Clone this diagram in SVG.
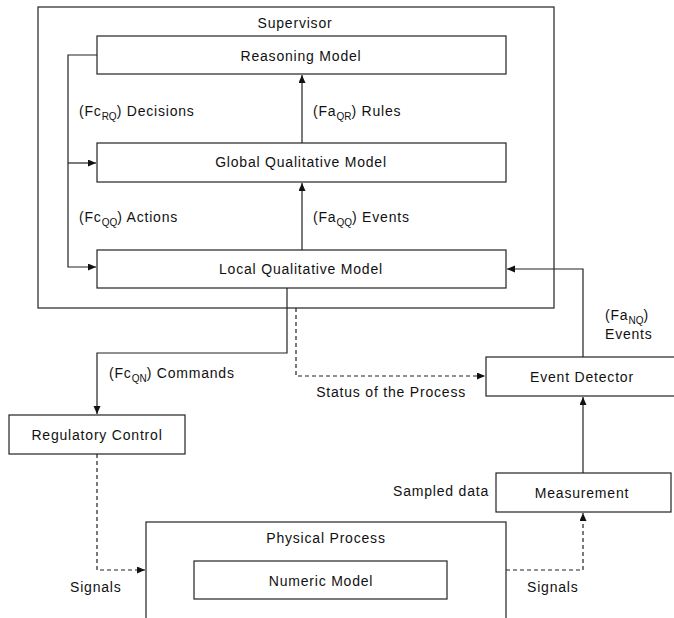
<svg xmlns="http://www.w3.org/2000/svg" width="674" height="618" viewBox="0 0 674 618">
<defs>
<marker id="ah" markerUnits="userSpaceOnUse" markerWidth="9" markerHeight="8" refX="8" refY="3.5" orient="auto">
<path d="M0,0 L8,3.5 L0,7 z" fill="#111"/>
</marker>
<style>
rect{fill:#fff;stroke:#222;stroke-width:1.2}
text{font-family:"Liberation Sans",Arial,sans-serif;font-size:14px;letter-spacing:0.8px;fill:#111}
.c{text-anchor:middle}
.e{text-anchor:end}
.sub{font-size:10px;letter-spacing:0}
.ln{fill:none;stroke:#222;stroke-width:1.2}
.d{stroke-dasharray:4 3}
</style>
</defs>
<rect width="674" height="618" style="fill:#fff;stroke:none"/>
<g id="supervisor">
<rect x="38" y="7" width="516" height="301"/>
<text class="c" x="295" y="28">Supervisor</text>
</g>
<g id="reasoning-model">
<rect x="97" y="36" width="409" height="38"/>
<text class="c" x="301" y="61">Reasoning Model</text>
</g>
<g id="global-qualitative-model">
<rect x="97" y="143" width="409" height="39"/>
<text class="c" x="301" y="167">Global Qualitative Model</text>
</g>
<g id="local-qualitative-model">
<rect x="97" y="250" width="409" height="38"/>
<text class="c" x="301" y="274">Local Qualitative Model</text>
</g>
<g id="event-detector">
<rect x="486" y="357" width="190" height="39"/>
<text class="c" x="582" y="382">Event Detector</text>
</g>
<g id="regulatory-control">
<rect x="9" y="415" width="176" height="39"/>
<text class="c" x="97" y="440">Regulatory Control</text>
</g>
<g id="measurement">
<rect x="496" y="473" width="175" height="39"/>
<text class="c" x="582" y="498">Measurement</text>
</g>
<g id="physical-process">
<rect x="146" y="522" width="360" height="110"/>
<text class="c" x="326" y="543">Physical Process</text>
</g>
<g id="numeric-model">
<rect x="194" y="561" width="253" height="38"/>
<text class="c" x="321" y="586">Numeric Model</text>
</g>
<g id="connectors">
<path class="ln" d="M97,55 H68 V267 H96" marker-end="url(#ah)"/>
<path class="ln" d="M68,163 H96" marker-end="url(#ah)"/>
<path class="ln" d="M302,143 V75" marker-end="url(#ah)"/>
<path class="ln" d="M302,250 V183" marker-end="url(#ah)"/>
<path class="ln" d="M287,288 V353 H97 V414" marker-end="url(#ah)"/>
<path class="ln d" d="M296,308 V376 H485" marker-end="url(#ah)"/>
<path class="ln" d="M583,357 V269 H507" marker-end="url(#ah)"/>
<path class="ln" d="M583,473 V397" marker-end="url(#ah)"/>
<path class="ln d" d="M97,454 V570 H145" marker-end="url(#ah)"/>
<path class="ln d" d="M506,570 H583 V513" marker-end="url(#ah)"/>
<text x="79" y="116">(Fc<tspan class="sub" dy="4">RQ</tspan><tspan dy="-4">) Decisions</tspan></text>
<text x="313" y="116">(Fa<tspan class="sub" dy="4">QR</tspan><tspan dy="-4">)  Rules</tspan></text>
<text x="79" y="222">(Fc<tspan class="sub" dy="4">QQ</tspan><tspan dy="-4">) Actions</tspan></text>
<text x="313" y="222">(Fa<tspan class="sub" dy="4">QQ</tspan><tspan dy="-4">) Events</tspan></text>
<text x="109" y="378">(Fc<tspan class="sub" dy="4">QN</tspan><tspan dy="-4">) Commands</tspan></text>
<text class="e" x="466" y="397">Status of the Process</text>
<text x="605" y="320">(Fa<tspan class="sub" dy="4">NQ</tspan><tspan dy="-4">)</tspan></text>
<text x="605" y="339">Events</text>
<text class="e" x="489" y="496">Sampled data</text>
<text x="70" y="592">Signals</text>
<text x="527" y="592">Signals</text>
</g>
</svg>
